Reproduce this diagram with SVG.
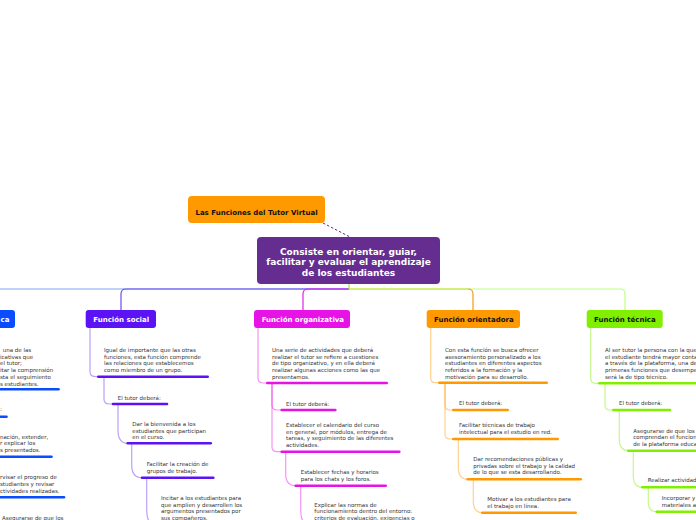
<svg xmlns="http://www.w3.org/2000/svg" width="696" height="520" viewBox="0 0 696 520">
<style>
text{font-family:"DejaVu Sans","Verdana",sans-serif}
.t{font-size:5.5px;fill:#333}
.h{font-size:7px;font-weight:bold}
.w{fill:#fff}
.k{fill:#111}
.ul{fill:none;stroke-width:2.6;stroke-linecap:round}
.c{fill:none;stroke-width:1.2}
.bl{stroke:#0a4cff}.so{stroke:#5b12f5}.or{stroke:#e612e6}.on{stroke:#ff9900}.te{stroke:#80f000}
.cso{stroke:#5b12f5;stroke-opacity:.4}.cor{stroke:#e612e6;stroke-opacity:.45}.con{stroke:#ff9900;stroke-opacity:.45}.cte{stroke:#80f000;stroke-opacity:.45}
</style>
<rect width="696" height="520" fill="#fff"/>
<g id="connectors">
<path class="c" d="M349,289 H-10" stroke="#7aa7f0" stroke-width="1.5" fill="none"/>
<path class="c" d="M349,289 H126 Q121,289 121,294 V310" stroke="#6a4cf2" stroke-width="1.5"/>
<path class="c" d="M349,289 H620 Q625,289 625,294 V310" stroke="#bfff80" stroke-width="1.5"/>
<path class="c" d="M349,289 H468" stroke="#c8e03c" stroke-width="1.5"/>
<path class="c" d="M468,289 Q473,289 473,294 V310" stroke="#f59a10" stroke-width="1.5"/>
<path class="c" d="M349,289 H308 Q303,289 303,294 V310" stroke="#e020f0" stroke-width="1.5"/>
<path class="c" d="M349,284 V289" stroke="#b0e040" stroke-width="1.5"/>
<path d="M323,223 L350,237" stroke="#66298f" stroke-width="1" stroke-dasharray="2.5 2" fill="none"/>
<!-- social -->
<path class="c cso" d="M90,328 V372 Q90,376.7 96,376.7 H98.3"/>
<path class="c cso" d="M104,377 V399 Q104,404 109,404 H113"/>
<path class="c cso" d="M118,404 V430 Q118,443.3 127.7,443.3"/>
<path class="c cso" d="M131.7,443.3 V465 Q131.7,477.7 142,477.7"/>
<path class="c cso" d="M146.7,477.7 V510 Q146.7,526 158,526"/>
<!-- organizativa -->
<path class="c cor" d="M258,328 V378 Q258,383 263,383 H267.3"/>
<path class="c cor" d="M272,383 V405 Q272,410 277,410 H281.7"/>
<path class="c cor" d="M272,383 V446.7 Q272,451.7 277,451.7 H281.7"/>
<path class="c cor" d="M285.7,451.7 V474 Q285.7,485.7 295.7,485.7"/>
<path class="c cor" d="M300.7,485.7 V510 Q300.7,526 312,526"/>
<!-- orientadora -->
<path class="c con" d="M430.7,328 V378 Q430.7,382.7 435.7,382.7 H439.3"/>
<path class="c con" d="M445,382.7 V405 Q445,410 450,410 H453.3"/>
<path class="c con" d="M445,382.7 V434 Q445,439 450,439 H453.3"/>
<path class="c con" d="M458.3,439 V467 Q458.3,479.3 467.7,479.3"/>
<path class="c con" d="M473.3,479.3 V501 Q473.3,512.7 482.3,512.7"/>
<!-- tecnica -->
<path class="c cte" d="M590.7,328 V378 Q590.7,383.3 595.7,383.3 H599.3"/>
<path class="c cte" d="M605,383.3 V405 Q605,410 610,410 H613.3"/>
<path class="c cte" d="M619.3,410 V439 Q619.3,450.7 628.3,450.7"/>
<path class="c cte" d="M633.3,450.7 V476 Q633.3,487.3 642.3,487.3"/>
<path class="c cte" d="M648.3,487.3 V502 Q648.3,511.7 656.7,511.7"/>
</g>
<g id="root">
<rect x="188" y="196" width="137" height="27" rx="4" fill="#ff9900"/>
<text x="256.5" y="214.5" class="h k" text-anchor="middle">Las Funciones del Tutor Virtual</text>
</g>
<g id="center">
<rect x="257" y="237" width="183" height="47" rx="4" fill="#662d91"/>
<text x="348.5" y="254.5" font-size="9" font-weight="bold" fill="#fff" text-anchor="middle">Consiste en orientar, guiar,</text>
<text x="348.5" y="265" font-size="9" font-weight="bold" fill="#fff" text-anchor="middle">facilitar y evaluar el aprendizaje</text>
<text x="348.5" y="275.5" font-size="9" font-weight="bold" fill="#fff" text-anchor="middle">de los estudiantes</text>
</g>
<!-- left (cut) column -->
<g id="didactica">
<rect x="-60" y="310" width="75" height="18" rx="3" fill="#0a4cff"/>
<text x="0.5" y="322" class="h w">ca</text>
</g>
<g id="didactica-p1">
<text class="t"><tspan x="2.7" y="352">una de las</tspan><tspan x="0" y="358.7">icativas que</tspan><tspan x="0" y="365.4">el tutor;</tspan><tspan x="0" y="372.1">itar la comprensión</tspan><tspan x="0" y="378.8">sta el seguimiento</tspan><tspan x="0" y="385.5">s estudiantes.</tspan></text>
<path class="ul bl" d="M-5,389.3 H58.5"/>
</g>
<g id="didactica-p2">
<text class="t" x="0" y="411">:</text>
<path class="ul bl" d="M-5,416.7 H6.5"/>
</g>
<g id="didactica-p3">
<text class="t"><tspan x="0" y="438.6">nación, extender,</tspan><tspan x="0" y="445.3">r explicar los</tspan><tspan x="0" y="452">s presentados.</tspan></text>
<path class="ul bl" d="M-5,456.7 H51.5"/>
</g>
<g id="didactica-p4">
<text class="t"><tspan x="0" y="479.2">rvisar el progreso de</tspan><tspan x="0" y="485.9">studiantes y revisar</tspan><tspan x="0" y="492.6">ctividades realizadas.</tspan></text>
<path class="ul bl" d="M-5,497.3 H64"/>
</g>
<g id="didactica-p5">
<text class="t" x="2" y="519.5">Asegurarse de que los</text>
</g>
<!-- social -->
<g id="social">
<rect x="85.7" y="310" width="70.3" height="18" rx="3" fill="#5b12f5"/>
<text x="93.3" y="322" class="h w">Función social</text>
</g>
<g id="social-p1">
<text class="t"><tspan x="104" y="352">Igual de importante que las otras</tspan><tspan x="104" y="358.7">funciones, esta función comprende</tspan><tspan x="104" y="365.4">las relaciones que establecemos</tspan><tspan x="104" y="372.1">como miembro de un grupo.</tspan></text>
<path class="ul so" d="M98.3,376.7 H207.7"/>
</g>
<g id="social-p2">
<text class="t" x="117.7" y="399.5">El tutor deberá:</text>
<path class="ul so" d="M113,404 H167"/>
</g>
<g id="social-p3">
<text class="t"><tspan x="132.3" y="425.8">Dar la bienvenida a los</tspan><tspan x="132.3" y="432.5">estudiantes que participan</tspan><tspan x="132.3" y="439.2">en el curso.</tspan></text>
<path class="ul so" d="M127.7,443.3 H210.7"/>
</g>
<g id="social-p4">
<text class="t"><tspan x="146.7" y="466.3">Facilitar la creación de</tspan><tspan x="146.7" y="473">grupos de trabajo.</tspan></text>
<path class="ul so" d="M142,477.7 H213.3"/>
</g>
<g id="social-p5">
<text class="t"><tspan x="161" y="500">Incitar a los estudiantes para</tspan><tspan x="161" y="506.7">que amplíen y desarrollen los</tspan><tspan x="161" y="513.4">argumentos presentados por</tspan><tspan x="161" y="520.1">sus compañeros.</tspan></text>
</g>
<!-- organizativa -->
<g id="organizativa">
<rect x="254" y="310" width="96" height="18" rx="3" fill="#e612e6"/>
<text x="261.7" y="322" class="h w">Función organizativa</text>
</g>
<g id="organizativa-p1">
<text class="t"><tspan x="272" y="352">Una serie de actividades que deberá</tspan><tspan x="272" y="358.7">realizar el tutor se refiere a cuestiones</tspan><tspan x="272" y="365.4">de tipo organizativo, y en ella deberá</tspan><tspan x="272" y="372.1">realizar algunas acciones como las que</tspan><tspan x="272" y="378.8">presentamos.</tspan></text>
<path class="ul or" d="M267.3,383 H386.7"/>
</g>
<g id="organizativa-p2">
<text class="t" x="286" y="405.5">El tutor deberá:</text>
<path class="ul or" d="M281.7,410 H335.3"/>
</g>
<g id="organizativa-p3">
<text class="t"><tspan x="286" y="427">Establecer el calendario del curso</tspan><tspan x="286" y="433.7">en general, por módulos, entrega de</tspan><tspan x="286" y="440.4">tareas, y seguimiento de las diferentes</tspan><tspan x="286" y="447.1">actividades.</tspan></text>
<path class="ul or" d="M281.7,451.7 H399.3"/>
</g>
<g id="organizativa-p4">
<text class="t"><tspan x="300.7" y="474">Establecer fechas y horarios</tspan><tspan x="300.7" y="481">para los chats y los foros.</tspan></text>
<path class="ul or" d="M295.7,485.7 H385.7"/>
</g>
<g id="organizativa-p5">
<text class="t"><tspan x="314.3" y="506.6">Explicar las normas de</tspan><tspan x="314.3" y="513.3">funcionamiento dentro del entorno:</tspan><tspan x="314.3" y="520">criterios de evaluación, exigencias o</tspan></text>
</g>
<!-- orientadora -->
<g id="orientadora">
<rect x="426.7" y="310" width="93.3" height="18" rx="3" fill="#ff9900"/>
<text x="434" y="322" class="h k">Función orientadora</text>
</g>
<g id="orientadora-p1">
<text class="t"><tspan x="445" y="352">Con esta función se busca ofrecer</tspan><tspan x="445" y="358.7">asesoramiento personalizado a los</tspan><tspan x="445" y="365.4">estudiantes en diferentes aspectos</tspan><tspan x="445" y="372.1">referidos a la formación y la</tspan><tspan x="445" y="378.8">motivación para su desarrollo.</tspan></text>
<path class="ul on" d="M439.3,382.7 H546.7"/>
</g>
<g id="orientadora-p2">
<text class="t" x="459" y="404.8">El tutor deberá:</text>
<path class="ul on" d="M453.3,410 H507.7"/>
</g>
<g id="orientadora-p3">
<text class="t"><tspan x="459" y="427">Facilitar técnicas de trabajo</tspan><tspan x="459" y="434">intelectual para el estudio en red.</tspan></text>
<path class="ul on" d="M453.3,439 H557.7"/>
</g>
<g id="orientadora-p4">
<text class="t"><tspan x="473.3" y="461">Dar recomendaciones públicas y</tspan><tspan x="473.3" y="467.7">privadas sobre el trabajo y la calidad</tspan><tspan x="473.3" y="474.4">de lo que se esta desarrollando.</tspan></text>
<path class="ul on" d="M467.7,479.3 H580.7"/>
</g>
<g id="orientadora-p5">
<text class="t"><tspan x="487.3" y="501.3">Motivar a los estudiantes para</tspan><tspan x="487.3" y="508">el trabajo en línea.</tspan></text>
<path class="ul on" d="M482.3,512.7 H575.7"/>
</g>
<!-- tecnica -->
<g id="tecnica">
<rect x="586.7" y="310" width="76" height="18" rx="3" fill="#80f000"/>
<text x="594" y="322" class="h k">Función técnica</text>
</g>
<g id="tecnica-p1">
<text class="t"><tspan x="605" y="352">Al ser tutor la persona con la que</tspan><tspan x="605" y="358.7">el estudiante tendrá mayor conta</tspan><tspan x="605" y="365.4">a través de la plataforma, una de</tspan><tspan x="605" y="372.1">primeras funciones que desempe</tspan><tspan x="605" y="378.8">será la de tipo técnico.</tspan></text>
<path class="ul te" d="M599.3,383.3 H705"/>
</g>
<g id="tecnica-p2">
<text class="t" x="619" y="404.8">El tutor deberá:</text>
<path class="ul te" d="M613.3,410 H670"/>
</g>
<g id="tecnica-p3">
<text class="t"><tspan x="633.3" y="432.5">Asegurarse de que los</tspan><tspan x="633.3" y="439.2">comprendan el funcion</tspan><tspan x="633.3" y="445.9">de la plataforma educa</tspan></text>
<path class="ul te" d="M628.3,450.7 H705"/>
</g>
<g id="tecnica-p4">
<text class="t" x="647.7" y="482">Realizar actividad</text>
<path class="ul te" d="M642.3,487.3 H705"/>
</g>
<g id="tecnica-p5">
<text class="t"><tspan x="661.7" y="500.3">Incorporar y</tspan><tspan x="661.7" y="507">materiales a</tspan></text>
<path class="ul te" d="M656.7,511.7 H705"/>
</g>
</svg>
